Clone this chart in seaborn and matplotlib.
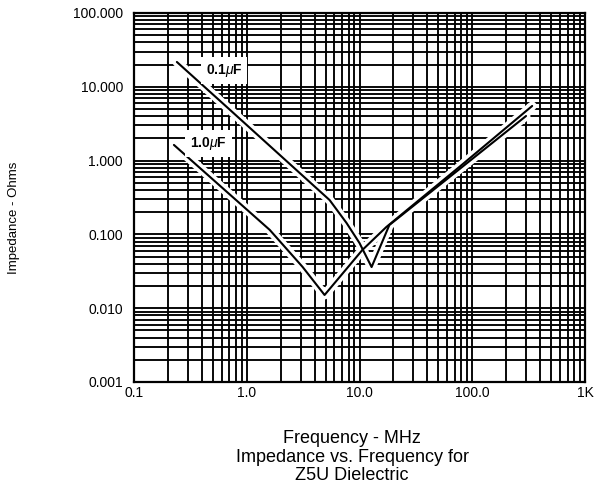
import numpy as np
import pandas as pd
import matplotlib
matplotlib.use("Agg")
import matplotlib.pyplot as plt
import seaborn as sns

# Data (Frequency in MHz, Impedance in Ohms)
freq_01uF = [0.240, 0.665, 5.43, 7.67, 10.0, 12.8, 18.4, 300.0]
imp_01uF = [21.7, 5.33, 0.292, 0.143, 0.0764, 0.0361, 0.134, 4.02]

freq_10uF = [0.226, 1.60, 3.13, 4.90, 10.6, 17.3, 76.7, 340.0]
imp_10uF = [1.63, 0.115, 0.0362, 0.0151, 0.0615, 0.126, 0.819, 5.50]

series_names = ["0.1$\\mu$F", "1.0$\\mu$F"]
x_ticks = [0.1, 1.0, 10.0, 100.0, 1000.0]
x_tick_labels = ["0.1", "1.0", "10.0", "100.0", "1K"]
y_ticks = [0.001, 0.01, 0.1, 1.0, 10.0, 100.0]
y_tick_labels = ["0.001", "0.010", "0.100", "1.000", "10.000", "100.000"]

df = pd.concat([
    pd.DataFrame({"Frequency": freq_01uF, "Impedance": imp_01uF, "Cap": series_names[0]}),
    pd.DataFrame({"Frequency": freq_10uF, "Impedance": imp_10uF, "Cap": series_names[1]}),
], ignore_index=True)

sns.set_style("white")
plt.rcParams["font.family"] = ["Liberation Sans", "DejaVu Sans"]
plt.rcParams["text.color"] = "black"
plt.rcParams["axes.labelcolor"] = "black"
plt.rcParams["mathtext.fontset"] = "custom"
plt.rcParams["mathtext.it"] = "Liberation Sans:italic"
plt.rcParams["mathtext.rm"] = "Liberation Sans"

fig = plt.figure(figsize=(6.05, 4.92), dpi=100)
ax = fig.add_axes([134 / 605, 1 - 382 / 492, (585 - 134) / 605, (382 - 13) / 492])

ax.set_xscale("log")
ax.set_yscale("log")
ax.set_xlim(0.1, 1000)
ax.set_ylim(0.001, 100)

# dense grid: majors and minors
ax.xaxis.set_minor_locator(matplotlib.ticker.LogLocator(base=10, subs=np.arange(2, 10)))
ax.yaxis.set_minor_locator(matplotlib.ticker.LogLocator(base=10, subs=np.arange(2, 10)))
ax.grid(True, which="both", color="black", linewidth=1.35, zorder=0)
ax.set_axisbelow(True)

# white halos first, then black lines
sns.lineplot(data=df, x="Frequency", y="Impedance", hue="Cap", sort=False,
             palette=["white", "white"], linewidth=6.5, legend=False, ax=ax,
             estimator=None)
sns.lineplot(data=df, x="Frequency", y="Impedance", hue="Cap", sort=False,
             palette=["black", "black"], linewidth=1.5, legend=False, ax=ax,
             estimator=None)

ax.set_xticks(x_ticks)
ax.set_xticklabels(x_tick_labels)
ax.set_yticks(y_ticks)
ax.set_yticklabels(y_tick_labels)
ax.tick_params(axis="both", which="both", length=0, labelsize=10, colors="black")
ax.tick_params(axis="x", pad=3)
ax.tick_params(axis="y", pad=8)

for s in ax.spines.values():
    s.set_visible(True)
    s.set_color("black")
    s.set_linewidth(1.6)

ax.set_xlabel("")
ax.set_ylabel("Impedance - Ohms", fontsize=9.5, color="black")
ax.yaxis.set_label_coords((20 - 134) / 451, (382 - 218) / 369)

# curve labels
bbox = dict(boxstyle="square,pad=0.35", facecolor="white", edgecolor="none")
ax.text(0.63, 16.5, series_names[0], fontsize=10, fontweight="bold", ha="center",
        va="center", bbox=bbox, zorder=5, color="black")
ax.text(0.46, 1.72, series_names[1], fontsize=10, fontweight="bold", ha="center",
        va="center", bbox=bbox, zorder=5, color="black")

fig.text(352 / 605, 1 - 457 / 492,
         "Frequency - MHz\nImpedance vs. Frequency for\nZ5U Dielectric",
         ha="center", va="center", fontsize=13, linespacing=1.08, color="black")

fig.savefig("out.png", dpi=100, facecolor="white")
